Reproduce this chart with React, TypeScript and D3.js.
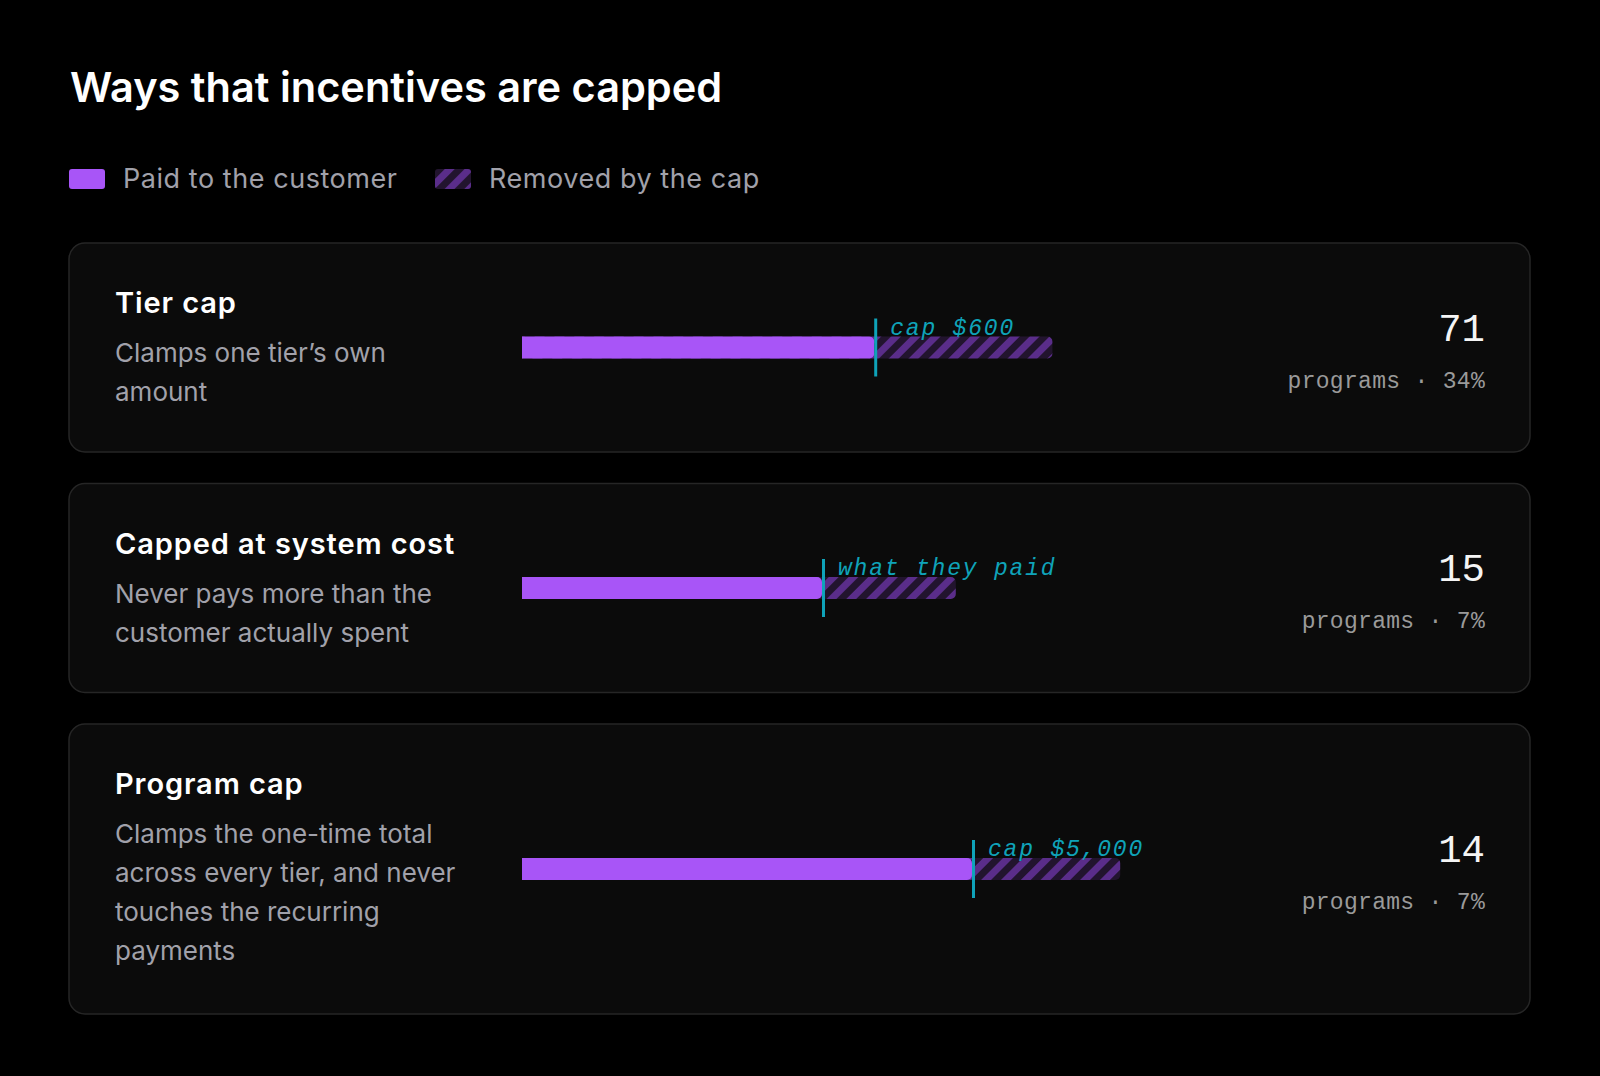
import React from "react";
import * as d3 from "d3";

const title = "Ways that incentives are capped";
const legendLabels = ["Paid to the customer", "Removed by the cap"];
const categories = ["Tier cap", "Capped at system cost", "Program cap"];
const descriptions = [
  ["Clamps one tier’s own", "amount"],
  ["Never pays more than the", "customer actually spent"],
  ["Clamps the one-time total", "across every tier, and never", "touches the recurring", "payments"],
];
const paidValues = [58.7, 50, 75];
const removedValues = [29.7, 22.3, 24.7];
const capLabels = ["cap $600", "what they paid", "cap $5,000"];
const programCounts = [71, 15, 14];
const programShares = [34, 7, 7];

const W = 1600;
const H = 1076;
const PURPLE = "#a855f7";
const TEAL = "#0fa3b9";
const SANS = "Inter, 'Noto Sans', sans-serif";
const MONO = "'Liberation Mono', 'DejaVu Sans Mono', monospace";

function rightRounded(x0: number, x1: number, y: number, h: number, r: number) {
  const p = d3.path();
  p.moveTo(x0, y);
  p.lineTo(x1 - r, y);
  p.arcTo(x1, y, x1, y + r, r);
  p.lineTo(x1, y + h - r);
  p.arcTo(x1, y + h, x1 - r, y + h, r);
  p.lineTo(x0, y + h);
  p.closePath();
  return p.toString();
}

export default function App() {
  const x = d3.scaleLinear().domain([0, 100]).range([522, 1122]);
  const cardLeft = 69;
  const cardRight = 1530;
  const lineH = 39;
  const baseCardH = 209;
  const extraPerLine = 40.5;
  const gap = 31.5;
  let top = 243;
  const cards = categories.map((c, i) => {
    const h = baseCardH + (descriptions[i].length - 2) * extraPerLine;
    const card = { top, h, i };
    top += h + gap;
    return card;
  });
  const barH = 22;

  return (
    <div style={{ position: "fixed", left: 0, top: 0, width: W, height: H, background: "#000" }}>
      <svg width={W} height={H} style={{ display: "block" }}>
        <defs>
          <pattern id="hatch" patternUnits="userSpaceOnUse" width={14} height={14} patternTransform="rotate(45)">
            <rect width={14} height={14} fill="#22142e" />
            <rect width={7} height={14} fill="#5a2d8a" />
          </pattern>
        </defs>
        <rect width={W} height={H} fill="#000" />
        <text x={70} y={102} fill="#ffffff" fontFamily={SANS} fontWeight={600} fontSize={41.5} letterSpacing={0}>
          {title}
        </text>

        {/* legend */}
        <rect x={69} y={169} width={36} height={20} rx={3} fill={PURPLE} />
        <text x={123} y={188} fill="#a1a1aa" fontFamily={SANS} fontSize={27} letterSpacing={0.55}>
          {legendLabels[0]}
        </text>
        <rect x={435} y={169} width={36} height={20} rx={3} fill="url(#hatch)" />
        <text x={489} y={188} fill="#a1a1aa" fontFamily={SANS} fontSize={27} letterSpacing={0.55}>
          {legendLabels[1]}
        </text>

        {cards.map(({ top, h, i }) => {
          const cy = top + h / 2;
          const by = cy - barH / 2;
          const x0 = x(0);
          const xp = x(paidValues[i]);
          const xt = x(paidValues[i] + removedValues[i]);
          return (
            <g key={i}>
              <rect x={cardLeft} y={top} width={cardRight - cardLeft} height={h} rx={16} fill="#0b0b0b" stroke="#262626" strokeWidth={1.5} />
              <text x={115} y={top + 70} fill="#ffffff" fontFamily={SANS} fontWeight={600} fontSize={29} letterSpacing={0.9}>
                {categories[i]}
              </text>
              {descriptions[i].map((line, j) => (
                <text key={j} x={115} y={top + 119 + j * lineH} fill="#a1a1aa" fontFamily={SANS} fontSize={26} letterSpacing={0}>
                  {line}
                </text>
              ))}
              <path d={rightRounded(x0, xt, by, barH, 5)} fill="url(#hatch)" />
              <path d={rightRounded(x0, xp, by, barH, 5)} fill={PURPLE} />
              <line x1={xp + 1.5} x2={xp + 1.5} y1={by - 18} y2={by + barH + 18} stroke={TEAL} strokeWidth={3} />
              <text x={xp + 16} y={by - 2} fill={TEAL} fontFamily={MONO} fontStyle="italic" fontSize={23} letterSpacing={1.8}>
                {capLabels[i]}
              </text>
              <text x={1485} y={cy - 7} textAnchor="end" fill="#f5f5f5" fontFamily={MONO} fontSize={39}>
                {programCounts[i]}
              </text>
              <text x={1485} y={cy + 40} textAnchor="end" fill="#9a9a9a" fontFamily={MONO} fontSize={23} letterSpacing={0.3}>
                {`programs · ${programShares[i]}%`}
              </text>
            </g>
          );
        })}
      </svg>
    </div>
  );
}
